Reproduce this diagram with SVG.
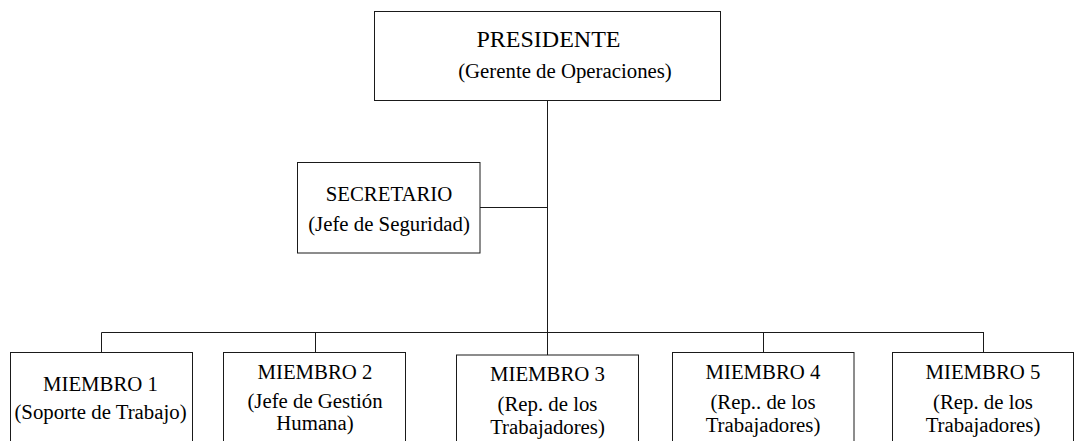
<svg xmlns="http://www.w3.org/2000/svg" width="1078" height="441" viewBox="0 0 1078 441">
<style>
.n rect{fill:#fff;stroke:#1a1a1a;stroke-width:1}
.c line{stroke:#1a1a1a;stroke-width:1}
text{font-family:"Liberation Serif","Times New Roman",serif;font-size:20.8px;fill:#000;text-anchor:middle}
.big{font-size:24px}
</style>
<rect width="1078" height="441" fill="#fff"/>
<g class="c" id="connectors">
<line x1="547.5" y1="100.5" x2="547.5" y2="355"/>
<line x1="480" y1="207.5" x2="547.5" y2="207.5"/>
<line x1="101.5" y1="332.5" x2="984" y2="332.5"/>
<line x1="101.5" y1="332.5" x2="101.5" y2="352.5"/>
<line x1="315.5" y1="332.5" x2="315.5" y2="352.5"/>
<line x1="763.5" y1="332.5" x2="763.5" y2="352.5"/>
<line x1="983.5" y1="332.5" x2="983.5" y2="352.5"/>
</g>
<g class="n" id="presidente">
<rect x="374.5" y="11.5" width="346" height="89"/>
<text class="big" x="548.5" y="47">PRESIDENTE</text>
<text x="565" y="78">(Gerente de Operaciones)</text>
</g>
<g class="n" id="secretario">
<rect x="297.5" y="162.5" width="182.5" height="90.5"/>
<text x="389" y="200.5">SECRETARIO</text>
<text x="389" y="231">(Jefe de Seguridad)</text>
</g>
<g class="n" id="miembro1">
<rect x="10.5" y="352.5" width="182" height="100"/>
<text x="100.5" y="390.5">MIEMBRO 1</text>
<text x="100.5" y="419">(Soporte de Trabajo)</text>
</g>
<g class="n" id="miembro2">
<rect x="223.5" y="352.5" width="182" height="100"/>
<text x="315" y="378.5">MIEMBRO 2</text>
<text x="315" y="408">(Jefe de Gestión</text>
<text x="315" y="430">Humana)</text>
</g>
<g class="n" id="miembro3">
<rect x="456.5" y="355" width="182" height="100"/>
<text x="547.5" y="381">MIEMBRO 3</text>
<text x="547.5" y="411">(Rep. de los</text>
<text x="547.5" y="434">Trabajadores)</text>
</g>
<g class="n" id="miembro4">
<rect x="672.5" y="352.5" width="181.5" height="100"/>
<text x="763" y="378.5">MIEMBRO 4</text>
<text x="763" y="409">(Rep.. de los</text>
<text x="763" y="432">Trabajadores)</text>
</g>
<g class="n" id="miembro5">
<rect x="892.5" y="352.5" width="181" height="100"/>
<text x="983" y="378.5">MIEMBRO 5</text>
<text x="983" y="409">(Rep. de los</text>
<text x="983" y="432">Trabajadores)</text>
</g>
</svg>
